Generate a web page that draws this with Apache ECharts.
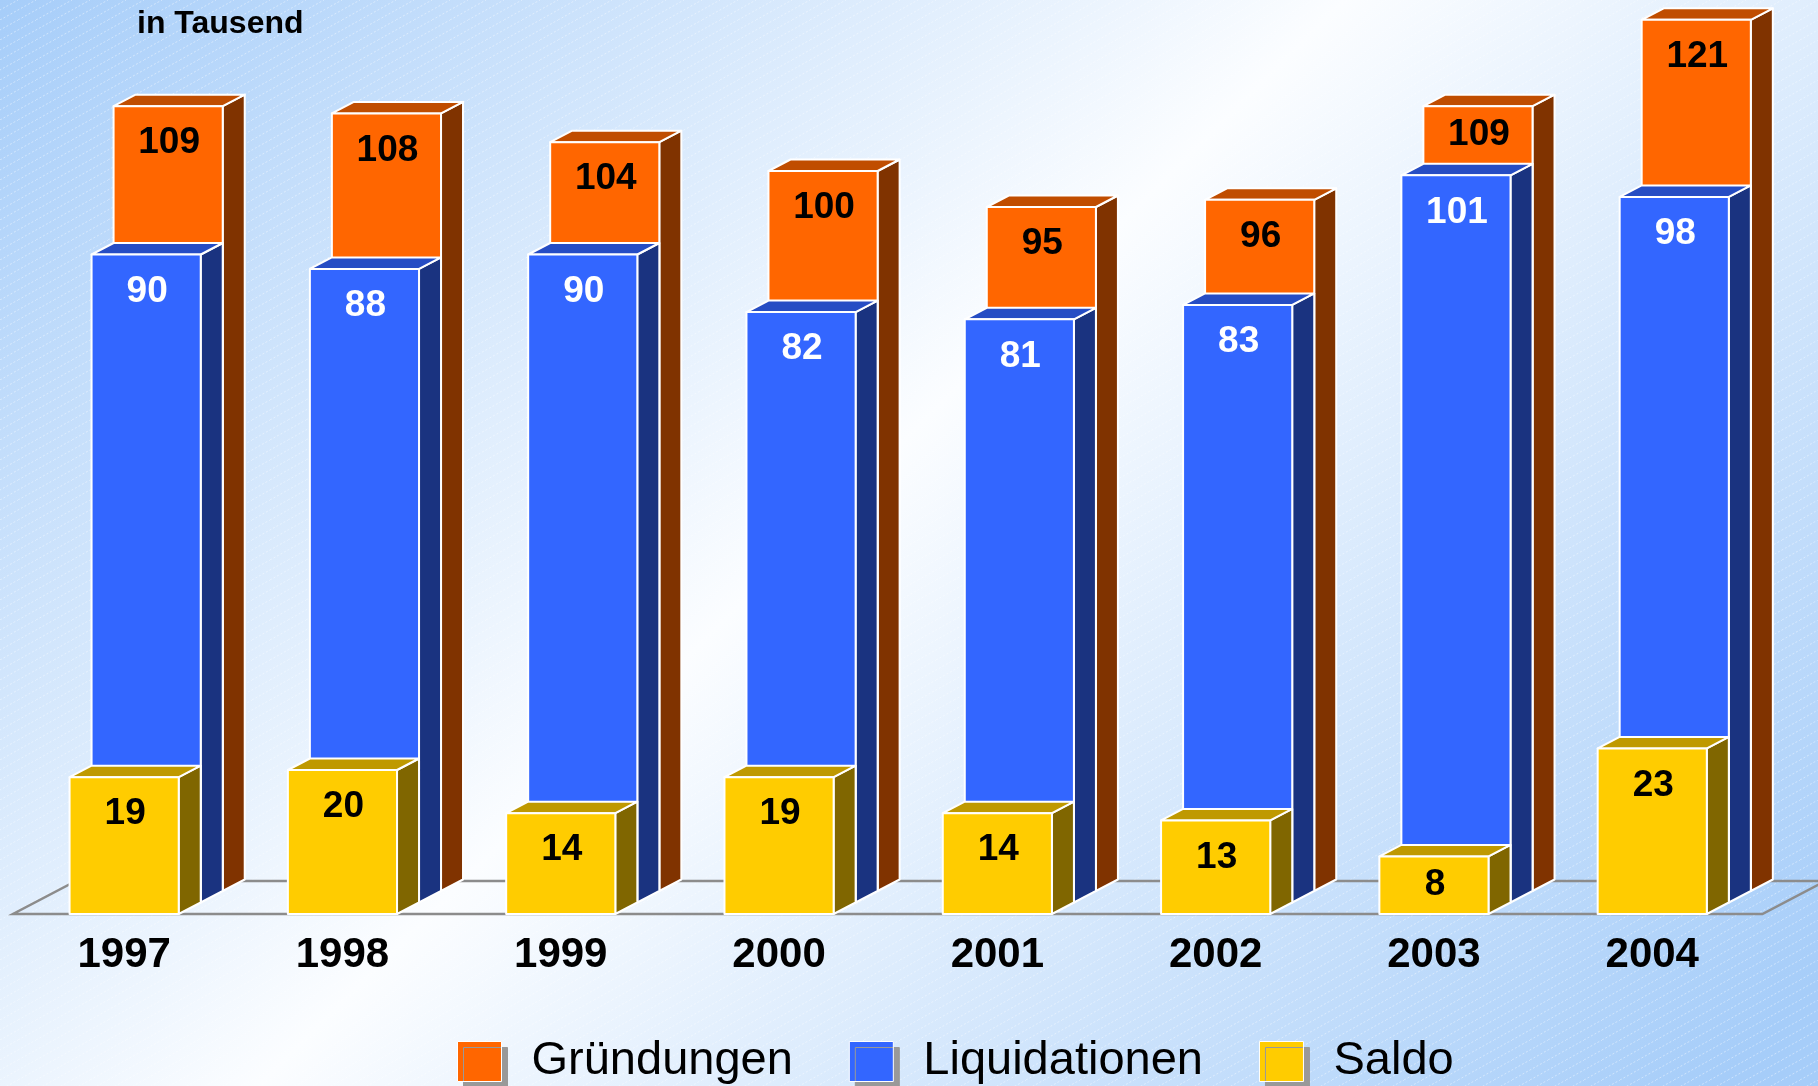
<!DOCTYPE html>
<html>
<head>
<meta charset="utf-8">
<title>Gründungen und Liquidationen</title>
<script src="https://cdn.jsdelivr.net/npm/echarts@6/dist/echarts.min.js"></script>
<style>
  html, body { margin: 0; padding: 0; }
  #chart { width: 1818px; height: 1086px; }
</style>
</head>
<body>
<div id="chart"></div>
<script>
'use strict';

var years = ['1997', '1998', '1999', '2000', '2001', '2002', '2003', '2004'];
var gruendungen = [109, 108, 104, 100, 95, 96, 109, 121];
var liquidationen = [90, 88, 90, 82, 81, 83, 101, 98];
var saldo = [19, 20, 14, 19, 14, 13, 8, 23];

var FONT = 'Arial, "Liberation Sans", sans-serif';
var PX_PER_UNIT = 7.2;
var Y_MAX = 123;
var FRONT_LEFT = 15;
var FRONT_BOTTOM = 914;
var PLOT_WIDTH = 1746.4;
var DX = 22;      // depth step to the right
var DY = 11.5;    // depth step upwards

// back to front: colors of front / top / side faces
var layers = [
  { name: 'Gründungen', values: gruendungen, cover: liquidationen, face: '#ff6600', top: '#c04d00', side: '#803300', label: '#000' },
  { name: 'Liquidationen', values: liquidationen, cover: saldo, face: '#3366ff', top: '#264dc4', side: '#1a3380', label: '#fff' },
  { name: 'Saldo', values: saldo, cover: null, face: '#ffcc00', top: '#bf9900', side: '#806600', label: '#000' },
];

function makeRenderItem(layer) {
  return function (params, api) {
    var i = api.value(0);
    var top = api.coord([i, api.value(1)]);
    var base = api.coord([i, 0]);
    var coverY = api.coord([i, api.value(2)])[1];
    var w = api.size([1, 0])[0] * 0.5;
    var x0 = top[0] - w / 2;
    var x1 = top[0] + w / 2;
    var yT = top[1];
    var yB = base[1];
    var labelY = yT + Math.min(37, (coverY - yT) / 2);
    var stroke = { stroke: '#fff', lineWidth: 2, lineJoin: 'round' };
    return {
      type: 'group',
      children: [{
        type: 'polygon',
        shape: { points: [[x1, yT], [x1 + DX, yT - DY], [x1 + DX, yB - DY], [x1, yB]] },
        style: Object.assign({ fill: layer.side }, stroke),
      }, {
        type: 'polygon',
        shape: { points: [[x0, yT], [x0 + DX, yT - DY], [x1 + DX, yT - DY], [x1, yT]] },
        style: Object.assign({ fill: layer.top }, stroke),
      }, {
        type: 'rect',
        shape: { x: x0, y: yT, width: w, height: yB - yT },
        style: Object.assign({ fill: layer.face }, stroke),
      }, {
        type: 'text',
        style: {
          x: top[0] + 1, y: labelY,
          text: String(api.value(1)),
          fill: layer.label,
          font: 'bold 37px ' + FONT,
          align: 'center', verticalAlign: 'middle',
        },
      }],
    };
  };
}

// faint diagonal hatching of the slide background
function hatchPattern() {
  var c = document.createElement('canvas');
  c.width = 36;
  c.height = 20;
  var ctx = c.getContext('2d');
  ctx.strokeStyle = 'rgba(255,255,255,0.45)';
  ctx.lineWidth = 1;
  ctx.setLineDash([2, 2]);
  [-18, 0, 18].forEach(function (off) {
    ctx.beginPath();
    ctx.moveTo(off, 20);
    ctx.lineTo(off + 36, 0);
    ctx.stroke();
  });
  return c;
}

var grids = [];
var xAxes = [];
var yAxes = [];
var series = [];

layers.forEach(function (layer, k) {
  var steps = layers.length - 1 - k;
  var bottomY = FRONT_BOTTOM - steps * DY;
  var isFront = steps === 0;
  grids.push({
    left: FRONT_LEFT + steps * DX,
    width: PLOT_WIDTH,
    top: bottomY - Y_MAX * PX_PER_UNIT,
    height: Y_MAX * PX_PER_UNIT,
  });
  xAxes.push({
    type: 'category',
    gridIndex: k,
    data: years,
    axisLine: { show: false },
    axisTick: { show: false },
    axisLabel: {
      show: isFront,
      margin: 20,
      color: '#000',
      fontFamily: FONT,
      fontWeight: 'bold',
      fontSize: 42,
    },
  });
  yAxes.push({
    type: 'value',
    gridIndex: k,
    min: 0,
    max: Y_MAX,
    show: false,
    splitLine: { show: false },
  });
  series.push({
    name: layer.name,
    type: 'custom',
    xAxisIndex: k,
    yAxisIndex: k,
    z: 2 + k,
    itemStyle: { color: layer.face },
    encode: { x: 0, y: 1 },
    renderItem: makeRenderItem(layer),
    data: layer.values.map(function (v, i) {
      return [i, v, layer.cover ? layer.cover[i] : 0];
    }),
  });
});

var floorDepthX = 3 * 21;
var floorDepthY = 33;
var floorRight = FRONT_LEFT + PLOT_WIDTH;

var chart = echarts.init(document.getElementById('chart'));
chart.setOption({
  animation: false,
  title: {
    text: 'in Tausend',
    left: 132,
    top: 3,
    textStyle: { fontFamily: FONT, fontWeight: 'bold', fontSize: 32, color: '#000' },
  },
  legend: {
    left: 452,
    top: 1033,
    itemWidth: 44,
    itemHeight: 40,
    itemGap: 56,
    icon: 'rect',
    itemStyle: { borderColor: '#fff', borderWidth: 1, shadowColor: '#999', shadowOffsetX: 6, shadowOffsetY: 6, shadowBlur: 0 },
    textStyle: { fontFamily: FONT, fontSize: 47, color: '#000', padding: [0, 0, 0, 25] },
    data: layers.map(function (l) {
      return { name: l.name, itemStyle: { color: l.face } };
    }),
  },
  graphic: [{
    type: 'rect',
    z: -10,
    silent: true,
    shape: { x: 0, y: 0, width: 1818, height: 1086 },
    style: {
      fill: {
        type: 'linear', global: true,
        x: 0, y: 0, x2: 1400, y2: 1400,
        colorStops: [
          { offset: 0, color: '#a6cdf9' },
          { offset: 0.48, color: '#fbfdff' },
          { offset: 1, color: '#a6cdf9' },
        ],
      },
    },
  }, {
    type: 'rect',
    z: -9,
    silent: true,
    shape: { x: 0, y: 0, width: 1818, height: 1086 },
    style: { fill: { image: hatchPattern(), repeat: 'repeat' } },
  }, {
    type: 'polygon',
    z: 1,
    silent: true,
    shape: {
      points: [
        [FRONT_LEFT - 2, FRONT_BOTTOM],
        [floorRight + 1, FRONT_BOTTOM],
        [floorRight + 1 + floorDepthX, FRONT_BOTTOM - floorDepthY],
        [FRONT_LEFT - 2 + floorDepthX, FRONT_BOTTOM - floorDepthY],
      ],
    },
    style: { fill: 'none', stroke: '#8c8c8c', lineWidth: 2.5 },
  }],
  grid: grids,
  xAxis: xAxes,
  yAxis: yAxes,
  series: series,
});
</script>
</body>
</html>
